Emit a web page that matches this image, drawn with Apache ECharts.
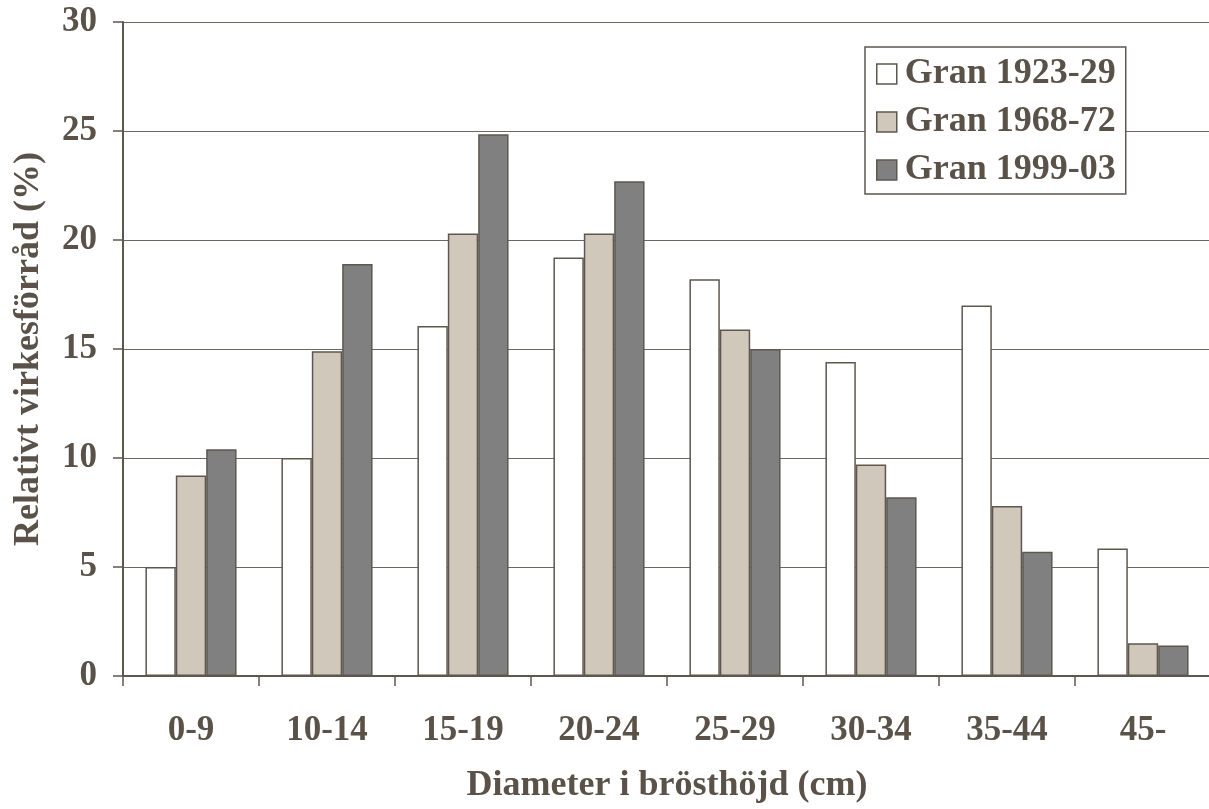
<!DOCTYPE html>
<html><head><meta charset="utf-8">
<script src="https://cdn.jsdelivr.net/npm/echarts@6/dist/echarts.min.js"></script>
<style>html,body{margin:0;padding:0;background:#fff}#c{width:1209px;height:809px}</style>
</head><body><div id="c"></div>
<script>
const categories = ['0-9','10-14','15-19','20-24','25-29','30-34','35-44','45-'];
const seriesNames = ['Gran 1923-29','Gran 1968-72','Gran 1999-03'];
const gran1923 = [5.0, 10.0, 16.05, 19.2, 18.2, 14.4, 17.0, 5.85];
const gran1968 = [9.2, 14.9, 20.3, 20.3, 15.9, 9.7, 7.8, 1.5];
const gran1999 = [10.4, 18.9, 24.85, 22.7, 15.0, 8.2, 5.7, 1.4];
const yTicks = [0,5,10,15,20,25,30];

const txt = '#5a5248';
const edge = '#5e574e';
const colors = ['#ffffff','#cfc8bb','#808080'];
const font = '"Liberation Serif", "Times New Roman", serif';
const chart = echarts.init(document.getElementById('c'));
const dataArr = [gran1923, gran1968, gran1999];
chart.setOption({
  animation:false,
  textStyle:{fontFamily:font},
  grid:{left:123, right:-2, top:22, bottom:133, containLabel:false, outerBoundsMode:'none'},
  legend:{
    orient:'vertical', left:865, top:47,
    data:seriesNames, icon:'rect',
    itemWidth:20, itemHeight:20, itemGap:12,
    padding:[9,10,6,11],
    borderColor:edge, borderWidth:1.5, backgroundColor:'#fff',
    textStyle:{fontFamily:font, fontSize:36, fontWeight:'bold', color:txt, padding:[0,0,0,3]},
    itemStyle:{borderColor:edge, borderWidth:1.5}
  },
  xAxis:{
    type:'category', data:categories,
    name:'Diameter i brösthöjd (cm)', nameLocation:'middle', nameGap:92,
    nameTextStyle:{fontFamily:font, fontSize:36, fontWeight:'bold', color:txt},
    axisLine:{lineStyle:{color:edge, width:2}},
    axisTick:{show:true, length:10, lineStyle:{color:edge, width:1.5}},
    axisLabel:{fontFamily:font, fontSize:35, fontWeight:'bold', color:txt, margin:37}
  },
  yAxis:{
    type:'value', min:0, max:30, interval:5,
    name:'Relativt virkesförråd (%)', nameLocation:'middle', nameGap:76,
    nameTextStyle:{fontFamily:font, fontSize:36, fontWeight:'bold', color:txt},
    axisLine:{show:true, lineStyle:{color:edge, width:2}},
    axisTick:{show:true, length:10, lineStyle:{color:edge, width:1.5}},
    axisLabel:{fontFamily:font, fontSize:35, fontWeight:'bold', color:txt, margin:26,
      formatter:v=> yTicks.includes(v)? String(v):''},
    splitLine:{show:true, lineStyle:{color:'#6e675e', width:1.2}}
  },
  series: seriesNames.map((n,i)=>({
    name:n, type:'bar', data:dataArr[i],
    barGap:'0%', barCategoryGap:'33%',
    itemStyle:{color:colors[i], borderColor:edge, borderWidth:1.5}
  }))
});
</script></body></html>
